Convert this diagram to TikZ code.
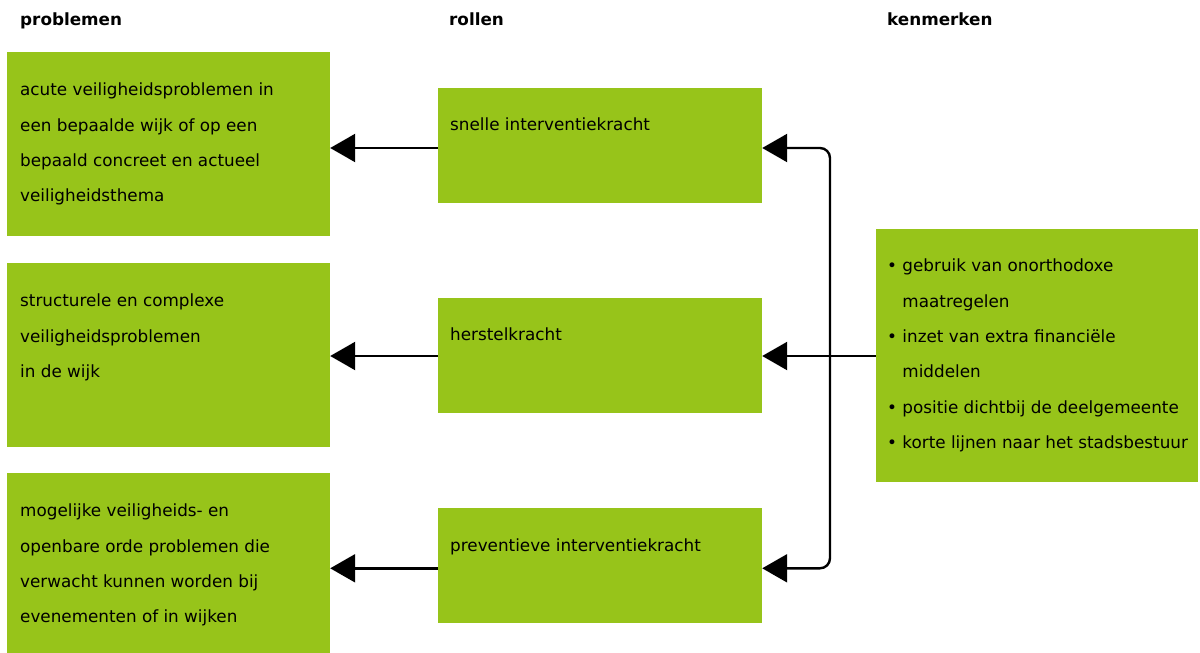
\documentclass[tikz,border=0pt]{standalone}
\usepackage{fontspec}
\setmainfont{DejaVu Sans}
\usetikzlibrary{arrows.meta}
\definecolor{boxgreen}{RGB}{151,196,26}
\tikzset{
  gbox/.style={fill=boxgreen, draw=none, inner sep=0pt},
  txt/.style={anchor=north west, inner sep=0pt, align=left, font=\fontsize{16.8}{35.3}\selectfont},
  hdr/.style={anchor=north west, inner sep=0pt, font=\fontsize{16.8}{18}\selectfont\bfseries},
  arr/.style={line width=2.4pt, -{Triangle[length=25pt,width=28pt]}},
  conn/.style={line width=2.4pt, rounded corners=10pt},
}
\begin{document}
\begin{tikzpicture}[x=1pt,y=-1pt]
\useasboundingbox[fill=white] (0,0) rectangle (1200,653);
% headers
\node[hdr] (h1) at (20,13) {problemen};
\node[hdr] (h2) at (449,13) {rollen};
\node[hdr] (h3) at (887,13) {kenmerken};
% left boxes
\node[gbox, minimum width=323pt, minimum height=184pt] (P1) at (168.5,144) {};
\node[gbox, minimum width=323pt, minimum height=184pt] (P2) at (168.5,355) {};
\node[gbox, minimum width=323pt, minimum height=182pt] (P3) at (168.5,564) {};
% middle boxes
\node[gbox, minimum width=324pt, minimum height=115pt] (R1) at (600,145) {};
\node[gbox, minimum width=324pt, minimum height=115pt] (R2) at (600,355) {};
\node[gbox, minimum width=324pt, minimum height=115pt] (R3) at (600,565.3) {};
% right box
\node[gbox, minimum width=322pt, minimum height=253pt] (K) at (1037,355) {};
% texts
\node[txt] (t1) at (20,83) {acute veiligheidsproblemen in\\een bepaalde wijk of op een\\bepaald concreet en actueel\\veiligheidsthema};
\node[txt] (t2) at (20,294) {structurele en complexe\\veiligheidsproblemen\\in de wijk};
\node[txt] (t3) at (20,504) {mogelijke veiligheids- en\\openbare orde problemen die\\verwacht kunnen worden bij\\evenementen of in wijken};
\node[txt] (t4) at (450,118) {snelle interventiekracht};
\node[txt] (t5) at (450,328) {herstelkracht};
\node[txt] (t6) at (450,539) {preventieve interventiekracht};
\node[txt] (t7) at (887,259) {\textbullet\ gebruik van onorthodoxe\\\phantom{\textbullet\ }maatregelen\\\textbullet\ inzet van extra financiële\\\phantom{\textbullet\ }middelen\\\textbullet\ positie dichtbij de deelgemeente\\\textbullet\ korte lijnen naar het stadsbestuur};
% connectors
\draw[arr] ([yshift=-3pt]R1.west) -- ([yshift=-3pt]P1.east |- R1.west);
\draw[arr] ([yshift=-1pt]R2.west) -- ([yshift=-1pt]P2.east |- R2.west);
\draw[arr] ([yshift=-3pt]R3.west) -- ([yshift=-3pt]P3.east |- R3.west);
\coordinate (J) at (830,356);
\draw[arr] ([yshift=-1pt]K.west) -- ([yshift=-1pt]R2.east);
\draw[conn, arr] (J) |- ([yshift=-3pt]R1.east);
\draw[conn, arr] (J) |- ([yshift=-3pt]R3.east);
\end{tikzpicture}
\end{document}
